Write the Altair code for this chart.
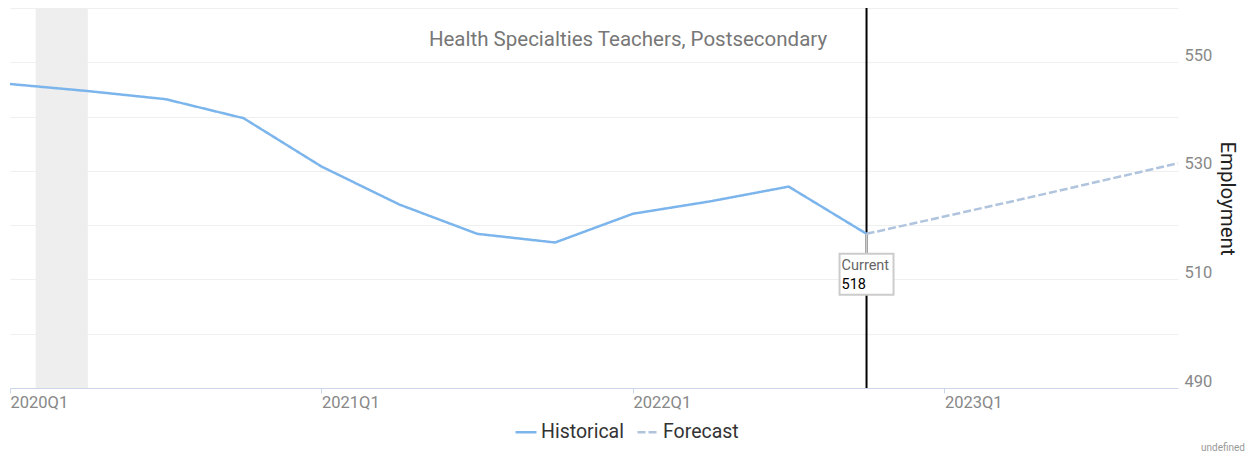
import altair as alt
import pandas as pd

quarters = ["2020Q1", "2020Q2", "2020Q3", "2020Q4",
            "2021Q1", "2021Q2", "2021Q3", "2021Q4",
            "2022Q1", "2022Q2", "2022Q3", "2022Q4",
            "2023Q1", "2023Q2", "2023Q3", "2023Q4"]
historical = [546.0, 544.7, 543.2, 539.7, 530.8, 523.8, 518.4, 516.8,
              522.1, 524.4, 527.1, 518.4]
forecast = [518.4, 521.6, 524.8, 528.1, 531.4]
current_label = "518"
recession_start = 0.33
recession_end = 1.0
chart_title = "Health Specialties Teachers, Postsecondary"

rows = []
for i, v in enumerate(historical):
    rows.append({"q": i, "label": quarters[i], "value": v, "series": "Historical"})
f0 = len(historical) - 1
for j, v in enumerate(forecast):
    rows.append({"q": f0 + j, "label": quarters[f0 + j], "value": v, "series": "Forecast"})
df = pd.DataFrame(rows)

cur_idx = f0
cur_val = historical[-1]

label_js = "[" + ",".join("'%s'" % q for q in quarters) + "]"

xscale = alt.Scale(domain=[0, len(quarters) - 1], nice=False, zero=False)
yscale = alt.Scale(domain=[490, 560], nice=False, zero=False)

x_axis = alt.Axis(values=[0, 4, 8, 12], labelExpr=label_js + "[datum.value]",
                  labelAlign="left", labelFontSize=16.5, labelColor="#888888",
                  labelFont="Roboto", grid=False, domainColor="#ccd6eb",
                  tickColor="#ccd6eb", tickSize=5, labelPadding=1, title=None)
y_axis = alt.Axis(orient="right", values=list(range(490, 561, 10)),
                  labelExpr="(datum.value-490)%20==0 ? datum.label : ''",
                  labelFontSize=16.5, labelColor="#888888", labelFont="Roboto",
                  labelOffset=-7, labelPadding=6, tickSize=0, domain=False,
                  gridColor="#efefef", title="Employment", titleFontSize=20.5,
                  titleFont="Roboto", titleFontWeight="normal", titleColor="#222222",
                  titlePadding=5)

band = alt.Chart(pd.DataFrame({"a": [recession_start], "b": [recession_end]})).mark_rect(
    color="#eeeeee").encode(
    x=alt.X("a:Q", scale=xscale, axis=x_axis), x2="b:Q",
    y=alt.value(0), y2=alt.value(380))

grid = alt.Chart(pd.DataFrame({"v": [490]})).mark_rule(opacity=0).encode(
    y=alt.Y("v:Q", scale=yscale, axis=y_axis))

leg = alt.Legend(orient="none", legendX=504, legendY=412, direction="horizontal",
                 title=None, labelFontSize=19.5, labelFont="Roboto",
                 labelColor="#333333", symbolType="stroke",
                 symbolStrokeWidth=2.5, symbolSize=440, columnPadding=8,
                 labelOffset=3)

lines = alt.Chart(df).mark_line(strokeWidth=2.5).encode(
    x=alt.X("q:Q", scale=xscale),
    y=alt.Y("value:Q", scale=yscale),
    color=alt.Color("series:N",
                    scale=alt.Scale(domain=["Historical", "Forecast"], range=["#7cb5ec", "#b0c4de"]),
                    legend=leg),
    strokeDash=alt.StrokeDash("series:N",
                              scale=alt.Scale(domain=["Historical", "Forecast"], range=[[1, 0], [8, 3]]),
                              legend=leg),
    detail="series:N")

cur_df = pd.DataFrame({"q": [cur_idx], "value": [cur_val], "txt": [current_label], "cap": ["Current"]})

vline = alt.Chart(cur_df).mark_rule(color="#000000", strokeWidth=2).encode(
    x=alt.X("q:Q", scale=xscale), y=alt.value(0), y2=alt.value(380))

connector = alt.Chart(cur_df).mark_rule(color="#cccccc", strokeWidth=2, y2Offset=20).encode(
    x=alt.X("q:Q", scale=xscale), y=alt.Y("value:Q", scale=yscale),
    y2=alt.Y2("value:Q"))

box = alt.Chart(cur_df).mark_rect(fill="#ffffff", stroke="#cccccc", strokeWidth=2,
                                  xOffset=-27, x2Offset=27, yOffset=20, y2Offset=61).encode(
    x=alt.X("q:Q", scale=xscale), x2="q:Q",
    y=alt.Y("value:Q", scale=yscale), y2="value:Q")

cap = alt.Chart(cur_df).mark_text(align="left", baseline="middle", fontSize=14.5, font="Roboto",
                                  color="#666666", dx=-25, dy=32).encode(
    x=alt.X("q:Q", scale=xscale), y=alt.Y("value:Q", scale=yscale), text="cap:N")
val = alt.Chart(cur_df).mark_text(align="left", baseline="middle", fontSize=14.5, font="Roboto",
                                  color="#000000", dx=-25, dy=51).encode(
    x=alt.X("q:Q", scale=xscale), y=alt.Y("value:Q", scale=yscale), text="txt:N")

title = alt.Chart(pd.DataFrame({"t": [chart_title]})).mark_text(
    fontSize=20.5, font="Roboto", color="#777777", align="center", baseline="middle").encode(
    x=alt.value(618), y=alt.value(32), text="t:N")

credit = alt.Chart(pd.DataFrame({"t": ["undefined"]})).mark_text(
    fontSize=10, font="Roboto", color="#999999", align="right", baseline="middle").encode(
    x=alt.value(1235), y=alt.value(440), text="t:N")

chart = alt.layer(band, grid, vline, lines, connector, box, cap, val, title, credit).properties(
    width=1168, height=380,
    autosize=alt.AutoSizeParams(type="none"),
    padding={"left": 2, "top": 0, "right": 67, "bottom": 66}
).configure_view(stroke=None)

chart.save("out.html", embed_options={"renderer": "svg", "actions": False})
